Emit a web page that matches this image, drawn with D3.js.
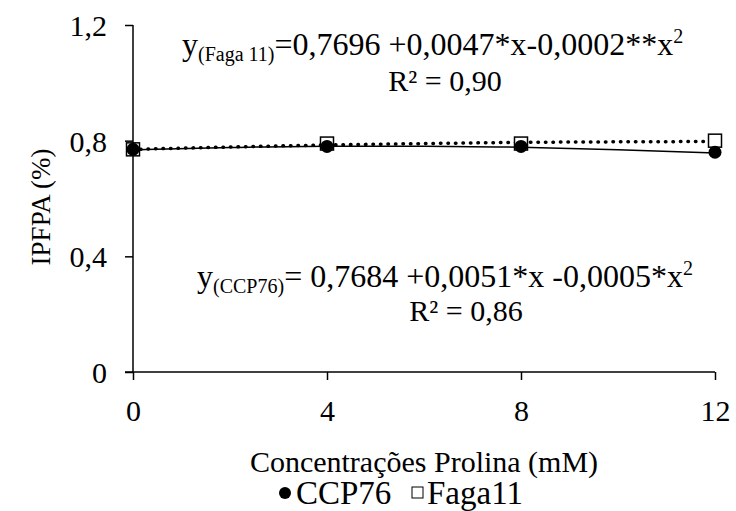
<!DOCTYPE html>
<html>
<head>
<meta charset="utf-8">
<script src="https://cdn.jsdelivr.net/npm/d3@7"></script>
<style>
  body { margin: 0; background: #fff; }
  .lbl { font-family: "Liberation Serif", serif; fill: #000; }
</style>
</head>
<body>
<svg id="chart"></svg>
<script>
// Data
const doses = [0, 4, 8, 12];
const ccp76 = [0.77, 0.78, 0.78, 0.76];
const faga11 = [0.77, 0.79, 0.79, 0.80];

// Fitted curves
const trendX = [0, 2, 4, 6, 8, 10, 12];
const ccp76Trend = [0.768, 0.776, 0.781, 0.781, 0.777, 0.769, 0.757];
const faga11Trend = [0.770, 0.778, 0.785, 0.790, 0.794, 0.796, 0.797];

const yTicks = [0, 0.4, 0.8, 1.2];
const xTicks = [0, 4, 8, 12];

const W = 736, H = 511;
const margin = { top: 25, right: 21, bottom: 139, left: 133 };
const width = W - margin.left - margin.right;
const height = H - margin.top - margin.bottom;

const svg = d3.select("#chart")
    .attr("width", W)
    .attr("height", H)
    .attr("font-family", "Liberation Serif");

const g = svg.append("g")
    .attr("transform", `translate(${margin.left}, ${margin.top})`);

const xScale = d3.scaleLinear().domain([0, 12]).range([0, width]);
const yScale = d3.scaleLinear().domain([0, 1.2]).range([height, 0]);

const fmt = d => d === 0 ? "0" : d3.format(".1f")(d).replace(".", ",");

// every text gets the serif face
function txt(sel, size) {
    return sel.attr("class", "lbl")
        .style("font-family", "Liberation Serif")
        .style("font-size", size + "px");
}

// Axes
const xAxis = d3.axisBottom(xScale).tickValues(xTicks).tickSize(8).tickFormat(d => d);
const yAxis = d3.axisLeft(yScale).tickValues(yTicks).tickSize(8).tickPadding(18).tickFormat(fmt);

const gx = g.append("g")
    .attr("transform", `translate(0, ${height})`)
    .call(xAxis)
    .attr("font-family", "Liberation Serif");
gx.select(".domain").attr("d", `M-8,0H${width}`);

const gy = g.append("g").call(yAxis).attr("font-family", "Liberation Serif");
gy.select(".domain").attr("d", `M0,0V${height}`);

[gx, gy].forEach(a => {
    a.selectAll("path, line").attr("stroke", "#000").attr("stroke-width", 1.5);
    txt(a.selectAll("text"), 30).attr("fill", "#000");
});
gy.selectAll("text").attr("dy", "0.35em");
gx.selectAll("text").attr("y", 49).attr("dy", 0);

// Trend lines
const line = d3.line()
    .x((d, i) => xScale(trendX[i]))
    .y(d => yScale(d))
    .curve(d3.curveMonotoneX);

g.append("path")
    .datum(ccp76Trend)
    .attr("d", line)
    .attr("fill", "none")
    .attr("stroke", "#000")
    .attr("stroke-width", 1.5);

g.append("path")
    .datum(faga11Trend)
    .attr("d", line)
    .attr("fill", "none")
    .attr("stroke", "#000")
    .attr("stroke-width", 3.5)
    .attr("stroke-linecap", "round")
    .attr("stroke-dasharray", "0.5,7");

// Faga11 markers (open squares)
const sq = 13;
g.selectAll(".faga")
    .data(faga11)
    .enter()
    .append("rect")
    .attr("class", "faga")
    .attr("x", (d, i) => xScale(doses[i]) - sq / 2)
    .attr("y", d => yScale(d) - sq / 2)
    .attr("width", sq)
    .attr("height", sq)
    .attr("fill", "#fff")
    .attr("stroke", "#000")
    .attr("stroke-width", 1.5);

// CCP76 markers (filled circles)
g.selectAll(".ccp")
    .data(ccp76)
    .enter()
    .append("circle")
    .attr("class", "ccp")
    .attr("cx", (d, i) => xScale(doses[i]))
    .attr("cy", d => yScale(d))
    .attr("r", 6.5)
    .attr("fill", "#000");

// Equations
const eq1 = txt(svg.append("text"), 32).attr("x", 182).attr("y", 55);
eq1.append("tspan").text("y");
eq1.append("tspan").attr("dy", 6).style("font-size", "20px").text("(Faga 11)");
eq1.append("tspan").attr("dy", -6).text("=0,7696 +0,0047*x-0,0002**x");
eq1.append("tspan").attr("dy", -12).style("font-size", "20px").text("2");

txt(svg.append("text"), 30).attr("x", 445).attr("y", 91).attr("text-anchor", "middle")
    .text("R² = 0,90");

const eq2 = txt(svg.append("text"), 32).attr("x", 197).attr("y", 287);
eq2.append("tspan").text("y");
eq2.append("tspan").attr("dy", 6).style("font-size", "20px").text("(CCP76)");
eq2.append("tspan").attr("dy", -6).text("= 0,7684 +0,0051*x -0,0005*x");
eq2.append("tspan").attr("dy", -12).style("font-size", "20px").text("2");

txt(svg.append("text"), 30).attr("x", 466).attr("y", 321).attr("text-anchor", "middle")
    .text("R² = 0,86");

// Axis titles
txt(svg.append("text"), 30)
    .attr("x", 424).attr("y", 472)
    .attr("text-anchor", "middle")
    .text("Concentrações Prolina (mM)");

txt(svg.append("text"), 27)
    .attr("transform", "translate(50, 207) rotate(-90)")
    .attr("text-anchor", "middle")
    .text("IPFPA (%)");

// Legend
const legend = svg.append("g").attr("transform", "translate(285, 493)");
legend.append("circle").attr("cx", 0).attr("cy", 0).attr("r", 6).attr("fill", "#000");
txt(legend.append("text"), 33).attr("x", 11).attr("y", 11).text("CCP76");
legend.append("rect").attr("x", 127).attr("y", -6).attr("width", 11).attr("height", 11)
    .attr("fill", "#fff").attr("stroke", "#000").attr("stroke-width", 1);
txt(legend.append("text"), 33).attr("x", 142).attr("y", 11).text("Faga11");
</script>
</body>
</html>
